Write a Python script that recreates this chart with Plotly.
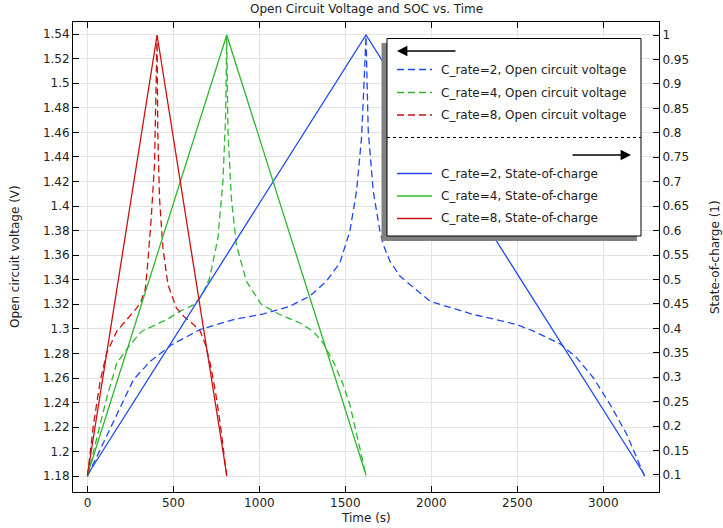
import plotly.graph_objects as go

# ---------------- data ----------------
# Open circuit voltage (V) vs time (s)
t_ocv_c2 = [0, 132, 268, 365, 491, 656, 850, 1025, 1176, 1293, 1390, 1468, 1526, 1565, 1594, 1609, 1620,
            1633, 1662, 1701, 1720, 1759, 1817, 1992, 2244, 2400, 2497, 2594, 2749, 2846, 2943, 3040, 3137, 3240]
v_ocv_c2 = [1.18, 1.2193, 1.2587, 1.2736, 1.2872, 1.2995, 1.3076, 1.3122, 1.3184, 1.3266, 1.3388, 1.3537, 1.3795,
            1.4121, 1.4555, 1.5017, 1.5383,
            1.461, 1.4121, 1.3795, 1.3687, 1.3551, 1.343, 1.3225, 1.3117, 1.3068, 1.3035, 1.2981, 1.2878, 1.2764,
            1.26, 1.2384, 1.214, 1.18]

t_ocv_c4 = [0, 64, 112, 171, 249, 316, 462, 540, 617, 665, 711, 759, 788, 804, 810,
            817, 837, 866, 924, 1012, 1118, 1235, 1312, 1370, 1429, 1487, 1526, 1584, 1620]
v_ocv_c4 = [1.18, 1.2166, 1.2438, 1.2723, 1.2872, 1.2981, 1.3076, 1.3144, 1.3195, 1.327, 1.3415, 1.374, 1.4202,
            1.4745, 1.5383,
            1.461, 1.4066, 1.3687, 1.3388, 1.3198, 1.3117, 1.3048, 1.2981, 1.2886, 1.2736, 1.2547, 1.2384,
            1.203, 1.18]

t_ocv_c8 = [0, 35, 74, 112, 171, 229, 287, 312, 336, 350, 371, 390, 400, 405,
            409, 419, 439, 468, 517, 559, 594, 617, 656, 686, 715, 744, 773, 810]
v_ocv_c8 = [1.18, 1.2221, 1.2574, 1.2804, 1.2981, 1.3076, 1.3171, 1.3225, 1.332, 1.3524, 1.3903, 1.4338, 1.488,
            1.5383,
            1.461, 1.4066, 1.3659, 1.3361, 1.3171, 1.3103, 1.3062, 1.3035, 1.2981, 1.2872, 1.271, 1.2492,
            1.2221, 1.18]

# State-of-charge (1) vs time (s)
t_soc_c2 = [0, 1620, 3240]
t_soc_c4 = [0, 810, 1620]
t_soc_c8 = [0, 405, 810]
soc_vals = [0.1, 1.0, 0.1]

x_ticks = [0, 500, 1000, 1500, 2000, 2500, 3000]
y_left_ticks = [1.18, 1.2, 1.22, 1.24, 1.26, 1.28, 1.3, 1.32, 1.34, 1.36, 1.38, 1.4, 1.42, 1.44, 1.46,
                1.48, 1.5, 1.52, 1.54]
y_left_text = ["1.18", "1.2", "1.22", "1.24", "1.26", "1.28", "1.3", "1.32", "1.34", "1.36", "1.38", "1.4",
               "1.42", "1.44", "1.46", "1.48", "1.5", "1.52", "1.54"]
y_right_ticks = [0.1, 0.15, 0.2, 0.25, 0.3, 0.35, 0.4, 0.45, 0.5, 0.55, 0.6, 0.65, 0.7, 0.75, 0.8, 0.85,
                 0.9, 0.95, 1.0]
y_right_text = ["0.1", "0.15", "0.2", "0.25", "0.3", "0.35", "0.4", "0.45", "0.5", "0.55", "0.6", "0.65",
                "0.7", "0.75", "0.8", "0.85", "0.9", "0.95", "1"]

legend_ocv = ["C_rate=2, Open circuit voltage", "C_rate=4, Open circuit voltage",
              "C_rate=8, Open circuit voltage"]
legend_soc = ["C_rate=2, State-of-charge", "C_rate=4, State-of-charge", "C_rate=8, State-of-charge"]

# ---------------- style ----------------
BLUE = "#1f48f5"
GREEN = "#2fb82f"
RED = "#cc1010"
colors = [BLUE, GREEN, RED]
DASH = "7px,4px"
FONT = "DejaVu Sans"
W, H = 723, 528
L, R, T, B = 73, 64, 22, 36

fig = go.Figure()
for tt, vv, c in zip([t_ocv_c2, t_ocv_c4, t_ocv_c8], [v_ocv_c2, v_ocv_c4, v_ocv_c8], colors):
    fig.add_trace(go.Scatter(x=tt, y=vv, mode="lines", yaxis="y",
                             line=dict(color=c, width=1.3, dash=DASH), showlegend=False))
for tt, c in zip([t_soc_c2, t_soc_c4, t_soc_c8], colors):
    fig.add_trace(go.Scatter(x=tt, y=soc_vals, mode="lines", yaxis="y2",
                             line=dict(color=c, width=1.3), showlegend=False))

pw = W - L - R
ph = H - T - B


def px(x):
    return (x - L) / pw


def py(y):
    return (H - B - y) / ph


shapes = []
annotations = []

# legend box with shadow
shapes.append(dict(type="rect", xref="paper", yref="paper", x0=px(381.5), x1=px(637), y0=py(241), y1=py(43),
                   fillcolor="#808080", line=dict(width=0), layer="above"))
shapes.append(dict(type="rect", xref="paper", yref="paper", x0=px(387), x1=px(641), y0=py(236), y1=py(38.5),
                   fillcolor="white", line=dict(color="black", width=1), layer="above"))
# separator
shapes.append(dict(type="line", xref="paper", yref="paper", x0=px(387), x1=px(641), y0=py(137.5), y1=py(137.5),
                   line=dict(color="black", width=1, dash="dot"), layer="above"))
rows_ocv = [69.5, 92.5, 115]
rows_soc = [173.5, 196, 218.5]
for i in range(3):
    shapes.append(dict(type="line", xref="paper", yref="paper", x0=px(397), x1=px(432),
                       y0=py(rows_ocv[i]), y1=py(rows_ocv[i]),
                       line=dict(color=colors[i], width=1.3, dash=DASH), layer="above"))
    annotations.append(dict(xref="paper", yref="paper", x=px(439), y=py(rows_ocv[i]), text=legend_ocv[i],
                            showarrow=False, xanchor="left", yanchor="middle",
                            font=dict(family=FONT, size=12, color="#222")))
    shapes.append(dict(type="line", xref="paper", yref="paper", x0=px(397), x1=px(432),
                       y0=py(rows_soc[i]), y1=py(rows_soc[i]),
                       line=dict(color=colors[i], width=1.3), layer="above"))
    annotations.append(dict(xref="paper", yref="paper", x=px(439), y=py(rows_soc[i]), text=legend_soc[i],
                            showarrow=False, xanchor="left", yanchor="middle",
                            font=dict(family=FONT, size=12, color="#222")))
# arrows
annotations.append(dict(xref="paper", yref="paper", x=px(397), y=py(51), ax=60, ay=0, text="",
                        showarrow=True, arrowhead=2, arrowsize=1.3, arrowwidth=1.6, arrowcolor="black"))
annotations.append(dict(xref="paper", yref="paper", x=px(631), y=py(155), ax=-60, ay=0, text="",
                        showarrow=True, arrowhead=2, arrowsize=1.3, arrowwidth=1.6, arrowcolor="black"))

# title and axis titles
annotations.append(dict(xref="paper", yref="paper", x=0.5, y=py(9), text="Open Circuit Voltage and SOC vs. Time",
                        showarrow=False, xanchor="center", yanchor="middle",
                        font=dict(family=FONT, size=12, color="#222")))
annotations.append(dict(xref="paper", yref="paper", x=px(15), y=0.5, text="Open circuit voltage (V)",
                        textangle=-90, showarrow=False, xanchor="center", yanchor="middle",
                        font=dict(family=FONT, size=12, color="#222")))
annotations.append(dict(xref="paper", yref="paper", x=px(715), y=0.5, text="State-of-charge (1)",
                        textangle=-90, showarrow=False, xanchor="center", yanchor="middle",
                        font=dict(family=FONT, size=12, color="#222")))
annotations.append(dict(xref="paper", yref="paper", x=0.5, y=py(518), text="Time (s)",
                        showarrow=False, xanchor="center", yanchor="middle",
                        font=dict(family=FONT, size=12, color="#222")))

tickfont = dict(family=FONT, size=12, color="#222")
fig.update_layout(
    width=W, height=H, autosize=False,
    margin=dict(l=L, r=R, t=T, b=B, pad=0),
    paper_bgcolor="white", plot_bgcolor="white",
    showlegend=False,
    shapes=shapes, annotations=annotations,
    xaxis=dict(range=[-84, 3324], tickvals=x_ticks, ticks="inside", ticklen=6, tickcolor="black",
               showline=True, linecolor="black", linewidth=1, mirror="ticks",
               showgrid=True, gridcolor="#e3e3e3", gridwidth=1, zeroline=False, tickfont=tickfont),
    yaxis=dict(range=[1.1672, 1.5498], tickvals=y_left_ticks, ticktext=y_left_text, ticks="inside",
               ticklen=6, tickcolor="black", showline=True, linecolor="black", linewidth=1,
               showgrid=True, gridcolor="#e3e3e3", gridwidth=1, zeroline=False, tickfont=tickfont),
    yaxis2=dict(range=[0.0652, 1.0266], tickvals=y_right_ticks, ticktext=y_right_text, overlaying="y",
                side="right", ticks="inside", ticklen=6, tickcolor="black", showline=True,
                linecolor="black", linewidth=1, showgrid=False, zeroline=False, tickfont=tickfont),
)

fig.write_html("out.html", config={"displayModeBar": False},
               post_script="document.body.style.margin='0px';document.body.style.padding='0px';")
